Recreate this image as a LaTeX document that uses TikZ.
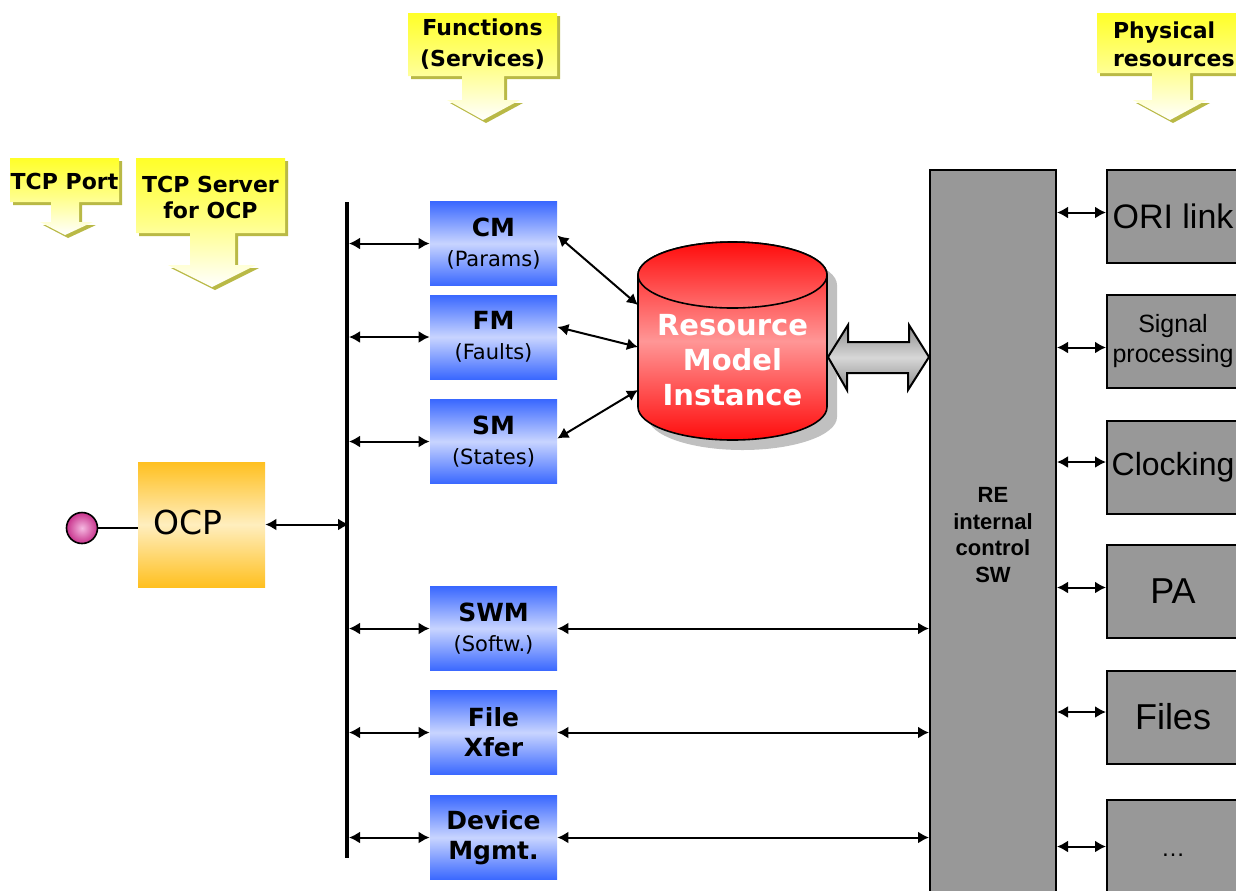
\documentclass[tikz,border=0pt]{standalone}
\usepackage{fontspec}
\setmainfont{DejaVu Sans}
\newfontfamily\arialfont{Liberation Sans}
\usetikzlibrary{arrows.meta}

\definecolor{fnblue}{RGB}{58,104,255}
\definecolor{fnlight}{RGB}{200,212,255}
\definecolor{ocporange}{RGB}{255,192,32}
\definecolor{ocplight}{RGB}{255,238,190}
\definecolor{rmired}{RGB}{255,12,12}
\definecolor{rmilight}{RGB}{255,150,150}
\definecolor{rmitop}{RGB}{255,110,110}
\definecolor{regray}{RGB}{152,152,152}
\definecolor{shadegray}{RGB}{192,192,192}
\definecolor{arrgray}{RGB}{140,140,140}
\definecolor{arrlight}{RGB}{215,215,215}
\definecolor{tipyellow}{RGB}{255,255,40}
\definecolor{tipolive}{RGB}{185,185,70}
\definecolor{portpink}{RGB}{200,50,140}
\definecolor{portlight}{RGB}{245,185,225}

\begin{document}
\begin{tikzpicture}[x=0.5pt, y=-0.5pt,
    >={Latex[length=5.5pt,width=6pt]},
    link/.style={line width=1pt, <->},
    callout/.style={top color=tipyellow, bottom color=white, middle color=tipyellow!55!white},
    calloutshade/.style={fill=tipolive, xshift=1.5pt, yshift=-1.5pt},
    callouttext/.style={font=\bfseries\fontsize{11}{14}\selectfont, align=center},
    fnbox/.style={inner sep=0pt, minimum width=63.5pt, minimum height=42pt,
      top color=fnblue, bottom color=fnblue, middle color=fnlight,
      align=center, font=\bfseries\fontsize{12.5}{15}\selectfont},
    resbox/.style={draw, line width=1pt, fill=regray, inner sep=0pt,
      minimum width=66pt, minimum height=46.5pt, align=center,
      font=\arialfont\fontsize{18}{20}\selectfont}]

			\useasboundingbox (0,0) rectangle (1236,890);
			\clip (0,0) rectangle (1236,890);

			% yellow callouts
			\fill[calloutshade] (10,158) -- (119,158) -- (119,202) -- (79,202) -- (79,222) -- (93,222)
			-- (65,235) -- (40,222) -- (51,222) -- (51,202) -- (10,202) -- cycle;
			\path[callout] (10,158) -- (119,158) -- (119,202) -- (79,202) -- (79,222) -- (93,222)
			-- (65,235) -- (40,222) -- (51,222) -- (51,202) -- (10,202) -- cycle;
			\node[callouttext] (tcpport) at (64.5,181) {TCP Port};

			\fill[calloutshade] (136,158) -- (285,158) -- (285,233) -- (235,233) -- (235,265) -- (256,265)
			-- (212,287) -- (168,265) -- (190,265) -- (190,233) -- (136,233) -- cycle;
			\path[callout] (136,158) -- (285,158) -- (285,233) -- (235,233) -- (235,265) -- (256,265)
			-- (212,287) -- (168,265) -- (190,265) -- (190,233) -- (136,233) -- cycle;
			\node[callouttext, font=\bfseries\fontsize{11}{13}\selectfont] (tcpsrv) at (210.5,197) {TCP Server\\for OCP};

			\fill[calloutshade] (408,13) -- (557,13) -- (557,76) -- (504,76) -- (504,100) -- (520,100)
			-- (483,120) -- (447,100) -- (462,100) -- (462,76) -- (408,76) -- cycle;
			\path[callout] (408,13) -- (557,13) -- (557,76) -- (504,76) -- (504,100) -- (520,100)
			-- (483,120) -- (447,100) -- (462,100) -- (462,76) -- (408,76) -- cycle;
			\node[callouttext, font=\bfseries\fontsize{11}{15.5}\selectfont] (funcs) at (482.5,44.5) {Functions\\(Services)};

			\fill[calloutshade] (1097,13) -- (1250,13) -- (1250,73) -- (1190,73) -- (1190,100) -- (1207,100)
			-- (1170,120) -- (1133,100) -- (1152,100) -- (1152,73) -- (1097,73) -- cycle;
			\path[callout] (1097,13) -- (1250,13) -- (1250,73) -- (1190,73) -- (1190,100) -- (1207,100)
			-- (1170,120) -- (1133,100) -- (1152,100) -- (1152,73) -- (1097,73) -- cycle;
			\node[callouttext, align=left, anchor=west] (physres) at (1106,44) {Physical\\resources};

			% OCP and its port
			\node[inner sep=0pt, minimum width=63.5pt, minimum height=62.5pt,
			top color=ocporange, bottom color=ocporange, middle color=ocplight] (ocp) at (201.5,524.5) {};
			\node[font=\fontsize{16.5}{18}\selectfont] (ocplabel) at (188,522) {OCP};
			\node[circle, draw, line width=0.8pt, minimum size=15.5pt, inner sep=0pt,
			inner color=portlight, outer color=portpink] (port) at (82,528) {};
			\draw[line width=1pt] (port.east) -- (port.east -| ocp.west);

			% bus
			\coordinate (bustop) at (347,202);
			\coordinate (busbot) at (347,858);
			\draw[line width=2pt] (bustop) -- (busbot);

			% functions
			\node[fnbox] (cm) at (493.5,243.5) {CM\\{\mdseries\fontsize{10.5}{13}\selectfont (Params)}};
			\node[fnbox] (fm) at (493.5,337) {FM\\{\mdseries\fontsize{10.5}{13}\selectfont (Faults)}};
			\node[fnbox] (sm) at (493.5,441.5) {SM\\{\mdseries\fontsize{10.5}{13}\selectfont (States)}};
			\node[fnbox] (swm) at (493.5,628.5) {SWM\\{\mdseries\fontsize{10.5}{13}\selectfont (Softw.)}};
			\node[fnbox] (xfer) at (493.5,732.5) {File\\Xfer};
			\node[fnbox] (dev) at (493.5,837.5) {Device\\Mgmt.};

			\draw[link] ([xshift=1pt]ocp.east -| bustop) -- (ocp.east);
			\draw[link] ([xshift=1pt]cm.west -| bustop) -- (cm.west);
			\draw[link] ([xshift=1pt]fm.west -| bustop) -- (fm.west);
			\draw[link] ([xshift=1pt]sm.west -| bustop) -- (sm.west);
			\draw[link] ([xshift=1pt]swm.west -| bustop) -- (swm.west);
			\draw[link] ([xshift=1pt]xfer.west -| bustop) -- (xfer.west);
			\draw[link] ([xshift=1pt]dev.west -| bustop) -- (dev.west);

			% resource model instance
			\fill[shadegray, xshift=5pt, yshift=-5pt] (638,275) -- (638,407)
			arc[start angle=180, end angle=360, x radius=47.25pt, y radius=16.5pt] -- (827,275)
			arc[start angle=0, end angle=180, x radius=47.25pt, y radius=16.5pt] -- cycle;
			\path[draw, line width=0.8pt, top color=rmired, bottom color=rmired, middle color=rmilight]
			(638,275) -- (638,407)
			arc[start angle=180, end angle=360, x radius=47.25pt, y radius=16.5pt] -- (827,275)
			arc[start angle=0, end angle=180, x radius=47.25pt, y radius=16.5pt] -- cycle;
			\path[draw, line width=0.8pt, top color=rmired, bottom color=rmitop]
			(732.5,275) ellipse[x radius=47.25pt, y radius=16.5pt];
			\node[text=white, align=center, font=\bfseries\fontsize{14.5}{17.5}\selectfont] (rmi) at (732.5,360)
			{Resource\\Model\\Instance};
			\coordinate (rmicm) at (638,305);
			\coordinate (rmifm) at (638,347);
			\coordinate (rmism) at (638,390);
			\coordinate (rmie) at (828,357);

			\draw[link] ([yshift=4pt]cm.east) -- (rmicm);
			\draw[link] ([yshift=5pt]fm.east) -- (rmifm);
			\draw[link] ([yshift=1.5pt]sm.east) -- (rmism);

			% RE internal control SW
			\node[draw, line width=1pt, fill=regray, inner sep=0pt, minimum width=63pt, minimum height=365pt,
			align=center, font=\arialfont\bfseries\fontsize{11}{13.25}\selectfont] (resw) at (993,535)
			{RE\\internal\\control\\SW};

			\path[draw, line width=1pt, top color=arrgray, bottom color=arrgray, middle color=arrlight]
			(rmie) -- ++(20,-32) -- ++(0,17) -- ++(61,0) -- ++(0,-17) -- (resw.west |- rmie)
			-- ++(-21,33) -- ++(0,-17) -- ++(-61,0) -- ++(0,17) -- cycle;

			\draw[link] (swm.east) -- (swm.east -| resw.west);
			\draw[link] (xfer.east) -- (xfer.east -| resw.west);
			\draw[link] (dev.east) -- (dev.east -| resw.west);

			% physical resources
			\node[resbox, font=\arialfont\fontsize{17}{20}\selectfont] (ori) at (1173,216.5) {ORI link};
			\node[resbox, font=\arialfont\fontsize{12.5}{15}\selectfont] (sigp) at (1173,341.5) {Signal\\processing};
			\node[resbox, font=\arialfont\fontsize{16}{20}\selectfont] (clk) at (1173,467) {Clocking};
			\node[resbox] (pa) at (1173,591.5) {PA};
			\node[resbox] (files) at (1173,717) {Files};
			\node[resbox, font=\arialfont\fontsize{12}{14}\selectfont] (more) at (1173,846.5) {\smash{\raisebox{-5pt}{\dots}}};

			\draw[link] ([yshift=2pt]ori.west -| resw.east) -- ([yshift=2pt]ori.west);
			\draw[link] ([yshift=-3pt]sigp.west -| resw.east) -- ([yshift=-3pt]sigp.west);
			\draw[link] ([yshift=2.5pt]clk.west -| resw.east) -- ([yshift=2.5pt]clk.west);
			\draw[link] ([yshift=2pt]pa.west -| resw.east) -- ([yshift=2pt]pa.west);
			\draw[link] ([yshift=2.5pt]files.west -| resw.east) -- ([yshift=2.5pt]files.west);
			\draw[link] (more.west -| resw.east) -- (more.west);

		\end{tikzpicture}
\end{document}
